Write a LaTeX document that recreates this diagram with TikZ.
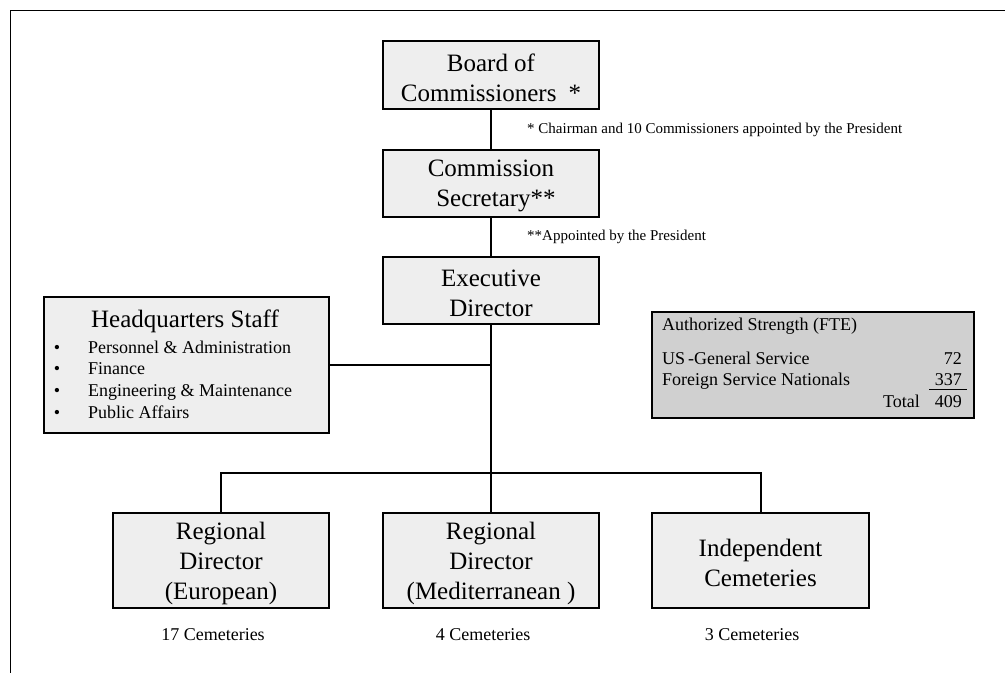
\documentclass[tikz,border=0pt]{standalone}
\usepackage{fontspec}
\setmainfont{Liberation Serif}
\definecolor{boxfill}{HTML}{EEEEEE}
\definecolor{authfill}{HTML}{D0D0D0}
\begin{document}
\begin{tikzpicture}[x=1pt,y=-1pt,
  box/.style={draw=black, line width=2.4pt, fill=boxfill, inner sep=0pt},
  authbox/.style={draw=black, line width=1.4pt, fill=authfill, inner sep=0pt},
  big/.style={font=\fontsize{25}{30}\selectfont, align=center, inner sep=0pt},
  hqitem/.style={font=\fontsize{18}{21}\selectfont, inner sep=0pt, anchor=base west},
  authtxt/.style={font=\fontsize{18}{21}\selectfont, inner sep=0pt},
  note/.style={font=\fontsize{15}{18}\selectfont, inner sep=0pt, anchor=base west},
  cnt/.style={font=\fontsize{18}{21}\selectfont, inner sep=0pt, anchor=base},
  conn/.style={draw=black, line width=2pt}
]
\useasboundingbox (0,0) rectangle (1005,673);
% outer frame
\coordinate (frameTL) at (10.5,10.5);
\coordinate (frameTR) at (1005,10.5);
\coordinate (frameBL) at (10.5,673);
\draw[line width=1.5pt] (frameTR) -- (frameTL) -- (frameBL);

% boxes
\node[box, minimum width=216pt, minimum height=68pt] (board) at (491,75) {};
\node[box, minimum width=216pt, minimum height=67pt] (comm) at (491,183.5) {};
\node[box, minimum width=216pt, minimum height=67pt] (exec) at (491,290.5) {};
\node[box, minimum width=285pt, minimum height=136pt] (hq) at (186.5,365) {};
\node[authbox, minimum width=322pt, minimum height=106pt] (auth) at (813,365) {};
\node[box, minimum width=216pt, minimum height=95pt] (left) at (221,560.5) {};
\node[box, minimum width=216pt, minimum height=95pt] (mid) at (491,560.5) {};
\node[box, minimum width=217pt, minimum height=95pt] (right) at (760.5,560.5) {};

% box texts
\node[big] (boardt) at ([yshift=-2.5pt]board.center) {Board of\\Commissioners\hspace{12pt}*};
\node[big] (commt) at ([yshift=-2.5pt]comm.center) {Commission\\\hspace*{10pt}Secretary**};
\node[big] (exect) at ([yshift=-2.5pt]exec.center) {Executive\\Director};
\node[big] (leftt) at ([yshift=-2.5pt]left.center) {Regional\\Director\\(European)};
\node[big] (midt) at ([yshift=-2.5pt]mid.center) {Regional\\Director\\(Mediterranean )};
\node[big] (rightt) at ([yshift=-2.5pt]right.center) {Independent\\Cemeteries};

% HQ content
\node[font=\fontsize{25}{30}\selectfont, inner sep=0pt, anchor=base] (hqtitle) at (185,327) {Headquarters Staff};
\node[hqitem, anchor=base] (b1) at (57,353) {•};
\node[hqitem, anchor=base] (b2) at (57,374.5) {•};
\node[hqitem, anchor=base] (b3) at (57,396) {•};
\node[hqitem, anchor=base] (b4) at (57,418) {•};
\node[hqitem] (i1) at (88,353) {Personnel \& Administration};
\node[hqitem] (i2) at (88,374.5) {Finance};
\node[hqitem] (i3) at (88,396) {Engineering \& Maintenance};
\node[hqitem] (i4) at (88,418) {Public Affairs};

% Authorized strength content
\node[authtxt, anchor=base west] (a0) at (662,330) {Authorized Strength (FTE)};
\node[authtxt, anchor=base west] (a1) at (662,364) {US\,-General Service};
\node[authtxt, anchor=base west] (a2) at (662,385) {Foreign Service Nationals};
\node[authtxt, anchor=base east] (n1) at (962,364) {72};
\node[authtxt, anchor=base east] (n2) at (962,385) {337};
\node[authtxt, anchor=base west] (tl) at (883,407) {Total};
\node[authtxt, anchor=base east] (n3) at (962,407) {409};
\coordinate (ulA) at (929,389.5);
\coordinate (ulB) at (967,389.5);
\draw[line width=1pt] (ulA) -- (ulB);

% notes
\node[note] (note1) at (527,133) {* Chairman and 10 Commissioners appointed by the President};
\node[note] (note2) at (527,240) {**Appointed by the President};

% cemetery counts
\node[cnt] (c1) at (213,640) {17 Cemeteries};
\node[cnt] (c2) at (483,640) {4 Cemeteries};
\node[cnt] (c3) at (752,640) {3 Cemeteries};

% connectors
\coordinate (j) at (491,473);
\draw[conn] (board.south) -- (comm.north);
\draw[conn] (comm.south) -- (exec.north);
\draw[conn] (exec.south) -- (j);
\draw[conn] (hq.east) -- (hq.east -| exec.south);
\draw[conn] (left.north) -- (left.north |- j) -- (right.north |- j) -- (right.north);
\draw[conn] (j) -- (mid.north);
\end{tikzpicture}
\end{document}
